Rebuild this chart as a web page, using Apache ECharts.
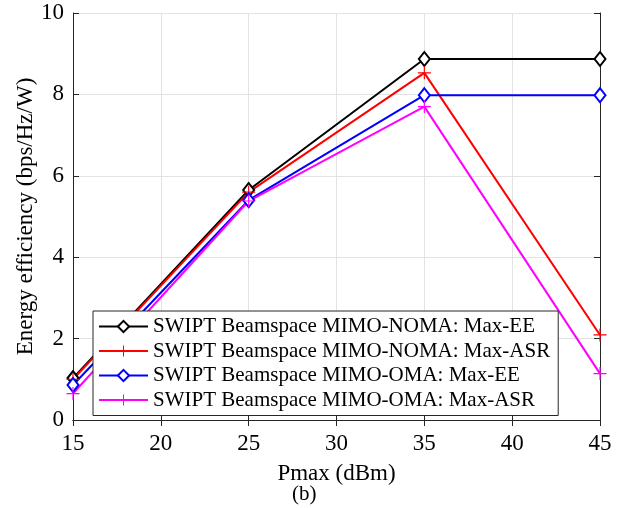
<!DOCTYPE html>
<html><head><meta charset="utf-8">
<script src="https://cdn.jsdelivr.net/npm/echarts@6/dist/echarts.min.js"></script>
<style>html,body{margin:0;padding:0;background:#fff}#c{width:627px;height:508px}</style>
</head><body><div id="c"></div>
<script>
const pmax = [15, 25, 35, 45];
const noma_ee = [1.03, 5.65, 8.87, 8.87];
const noma_asr = [1.0, 5.6, 8.53, 2.09];
const oma_ee = [0.86, 5.4, 7.98, 7.98];
const oma_asr = [0.65, 5.38, 7.7, 1.14];
const seriesNames = [
  'SWIPT Beamspace MIMO-NOMA: Max-EE',
  'SWIPT Beamspace MIMO-NOMA: Max-ASR',
  'SWIPT Beamspace MIMO-OMA: Max-EE',
  'SWIPT Beamspace MIMO-OMA: Max-ASR'
];
const xTicks = [15, 20, 25, 30, 35, 40, 45];
const yTicks = [0, 2, 4, 6, 8, 10];

const FONT = '"Liberation Serif", "Times New Roman", serif';
const plus = 'path://M-0.09,-1 L0.09,-1 L0.09,-0.09 L1,-0.09 L1,0.09 L0.09,0.09 L0.09,1 L-0.09,1 L-0.09,0.09 L-1,0.09 L-1,-0.09 L-0.09,-0.09 Z';
const pair = ys => pmax.map((x, i) => [x, ys[i]]);
function mk(name, ys, color, sym) {
  const isDia = sym === 'diamond';
  return {
    name, type: 'line', data: pair(ys),
    symbol: isDia ? 'emptyDiamond' : plus,
    symbolSize: isDia ? [11, 14] : 13,
    showAllSymbol: true, clip: false,
    lineStyle: { color, width: 2 },
    itemStyle: { color, borderColor: color, borderWidth: isDia ? 2 : 0 },
    emphasis: { disabled: true },
    animation: false, z: 3
  };
}
const axisLine = { show: true, lineStyle: { color: '#262626', width: 1 } };
const tick = { show: true, inside: true, length: 6, lineStyle: { color: '#262626' } };
const chart = echarts.init(document.getElementById('c'));
chart.setOption({
  backgroundColor: '#fff',
  animation: false,
  grid: { left: 73, right: 27, top: 13, bottom: 88 },
  legend: {
    orient: 'vertical', left: 93, top: 311,
    backgroundColor: '#fff', borderColor: '#262626', borderWidth: 1, borderRadius: 0,
    padding: [5, 8, 5, 5], itemGap: 3.5, itemWidth: 49, itemHeight: 14,
    textStyle: { fontFamily: FONT, fontSize: 21, color: '#000' },
    data: seriesNames
  },
  xAxis: [{
    type: 'value', min: 15, max: 45, interval: 5,
    name: 'Pmax (dBm)', nameLocation: 'middle', nameGap: 42,
    nameTextStyle: { fontFamily: FONT, fontSize: 23, color: '#000' },
    axisLine, axisTick: tick,
    axisLabel: { fontFamily: FONT, fontSize: 23, color: '#000', margin: 12,
      formatter: v => xTicks.includes(v) ? String(v) : '' },
    splitLine: { show: true, lineStyle: { color: '#e3e3e3', width: 1 } }
  }, {
    type: 'value', position: 'top', min: 15, max: 45, interval: 5,
    axisLine, axisTick: tick,
    axisLabel: { show: false }, splitLine: { show: false }
  }],
  yAxis: [{
    type: 'value', min: 0, max: 10, interval: 2,
    name: 'Energy efficiency (bps/Hz/W)', nameLocation: 'middle', nameGap: 36,
    nameMoveOverlap: false,
    nameTextStyle: { fontFamily: FONT, fontSize: 23, color: '#000' },
    axisLine, axisTick: tick,
    axisLabel: { fontFamily: FONT, fontSize: 23, color: '#000', margin: 9,
      formatter: v => yTicks.includes(v) ? String(v) : '' },
    splitLine: { show: true, lineStyle: { color: '#e3e3e3', width: 1 } }
  }, {
    type: 'value', position: 'right', min: 0, max: 10, interval: 2,
    axisLine, axisTick: tick,
    axisLabel: { show: false }, splitLine: { show: false }
  }],
  graphic: [{
    type: 'text', left: 292, top: 484,
    style: { text: '(b)', font: '21px ' + FONT, fill: '#000' }
  }],
  series: [
    mk(seriesNames[0], noma_ee, '#000000', 'diamond'),
    mk(seriesNames[1], noma_asr, '#ff0000', 'plus'),
    mk(seriesNames[2], oma_ee, '#0000ff', 'diamond'),
    mk(seriesNames[3], oma_asr, '#ff00ff', 'plus')
  ]
});
</script></body></html>
